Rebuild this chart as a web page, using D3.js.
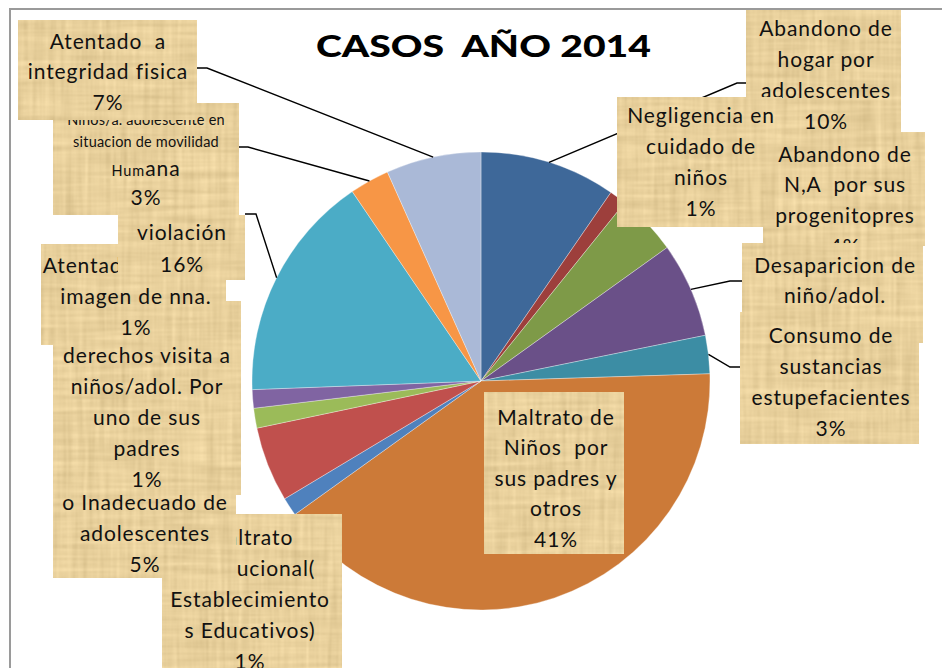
<!DOCTYPE html>
<html><head><meta charset="utf-8">
<script src="https://cdn.jsdelivr.net/npm/d3@7"></script>
<style>html,body{margin:0;padding:0;background:#fff;overflow:hidden}</style>
</head><body>
<svg id="chart" width="942" height="668"></svg>
<script>
// ---------------- data ----------------
const title = "CASOS  AÑO 2014";
const categories = [
  "Abandono de hogar por adolescentes",
  "Negligencia en cuidado de niños",
  "Abandono de N,A por sus progenitopres",
  "Desaparicion de niño/adol.",
  "Consumo de sustancias estupefacientes",
  "Maltrato de Niños por sus padres y otros",
  "Maltrato Institucional( Establecimientos Educativos)",
  "Uso Inadecuado de adolescentes",
  "Negación de derechos visita a niños/adol. Por uno de sus padres",
  "Atentado contra la imagen de nna.",
  "violación",
  "Niños/a. adolescente en situacion de movilidad Humana",
  "Atentado a integridad fisica"
];
const values = [9.6, 1.2, 4.3, 6.7, 2.7, 40.6, 1.3, 5.3, 1.4, 1.3, 16.1, 2.8, 6.7];
const labelLines = [
  ["Abandono de", "hogar por", "adolescentes"],
  ["Negligencia en", "cuidado de", "niños"],
  ["Abandono de", "N,A  por sus", "progenitopres"],
  ["Desaparicion de", "niño/adol."],
  ["Consumo de", "sustancias", "estupefacientes"],
  ["Maltrato de", "Niños  por", "sus padres y", "otros"],
  ["Maltrato", "Institucional(", "Establecimiento", "s Educativos)"],
  ["o Inadecuado de", "adolescentes"],
  ["Negación de", "derechos visita a", "niños/adol. Por", "uno de sus", "padres"],
  ["Atentado contra la", "imagen de nna."],
  ["violación"],
  ["Niños/a. adolescente en", "situacion de movilidad", "Humana"],
  ["Atentado  a", "integridad fisica"]
];
const colors = ["#3E6899","#9D3F3C","#7E9A48","#6A5088","#3C8DA4","#CC7A38",
                "#4F81BD","#C0504D","#9BBB59","#8064A2","#4BACC6","#F79646","#AAB9D7"];

// ---------------- layout ----------------
const cx = 481, cy = 381, R = 229;
const layout = [
  {box:[746,10,901,140], tx:826, bl:[36,67,98,129], leader:[746,83,737]},
  {box:[617,97,782,227], tx:701, bl:[123,154,185,216]},
  {box:[763,132,925,246], tx:845, bl:[162,192,223,254]},
  {box:[742,243,923,343], tx:835, bl:[273,303,334], leader:[742,281,730]},
  {box:[740,312,919,444], tx:831, bl:[343,374,405,436], leader:[740,367,730]},
  {box:[484,392,624,554], tx:556, bl:[425,455,486,516,547]},
  {box:[162,514,342,700], tx:250, bl:[545,576,607,638,669]},
  {box:[53,495,236,578], tx:145, bl:[510,541,572]},
  {box:[53,301,241,495], tx:147, bl:[332,363,394,425,456,487]},
  {box:[41,244,226,345], tx:136, bl:[273,304,335]},
  {box:[118,215,245,280], tx:182, bl:[240,272], leader:[245,214,256]},
  {box:[53,103,239,215], tx:146, bl:[125,147,176,205], sizes:[14.5,14.5,21,21], mixed:{line:2, split:3, size:14.5}, leader:[239,147,248]},
  {box:[18,20,197,120], tx:108, bl:[49,79,110], leader:[197,68,207]}
];
const FS = 21;

const svg = d3.select("#chart");
const defs = svg.append("defs");
const f = defs.append("filter").attr("id","papyrus")
  .attr("x",0).attr("y",0).attr("width",1).attr("height",1)
  .attr("color-interpolation-filters","sRGB");
f.append("feTurbulence").attr("type","fractalNoise").attr("baseFrequency","0.012 0.18")
  .attr("numOctaves",2).attr("seed",2).attr("result","t1");
f.append("feTurbulence").attr("type","fractalNoise").attr("baseFrequency","0.18 0.012")
  .attr("numOctaves",2).attr("seed",9).attr("result","t2");
f.append("feComposite").attr("in","t1").attr("in2","t2").attr("operator","arithmetic")
  .attr("k1",0).attr("k2",0.5).attr("k3",0.5).attr("k4",0).attr("result","t");
f.append("feColorMatrix").attr("in","t").attr("type","matrix")
  .attr("values","0.22 0 0 0 0.80  0.22 0 0 0 0.705  0.22 0 0 0 0.50  0 0 0 0 1").attr("result","c");
f.append("feComposite").attr("in","c").attr("in2","SourceGraphic").attr("operator","in");

// frame
svg.append("rect").attr("x",10).attr("y",9).attr("width",1200).attr("height",1200)
  .attr("fill","none").attr("stroke","#9a9a9a").attr("stroke-width",2);

// title
svg.append("text").attr("x",483.5).attr("y",57).attr("text-anchor","middle")
  .attr("font-family","Lato, 'Open Sans', sans-serif").attr("font-weight",900)
  .attr("font-size",31).attr("textLength",335).attr("lengthAdjust","spacingAndGlyphs")
  .attr("fill","#000").style("white-space","pre").text(title);

// pie
const total = d3.sum(values);
const pie = d3.pie().sort(null).value(d => d)(values);
const arc = d3.arc().innerRadius(0).outerRadius(R);
const g = svg.append("g").attr("transform",`translate(${cx},${cy})`);
g.selectAll("path").data(pie).join("path")
  .attr("d",arc).attr("fill",(d,i)=>colors[i])
  .attr("stroke","rgba(255,255,255,0.55)").attr("stroke-width",0.6);

// leader lines
pie.forEach((d,i) => {
  const L = layout[i].leader; if (!L) return;
  const a = (d.startAngle + d.endAngle)/2;
  const px = cx + R*Math.sin(a), py = cy - R*Math.cos(a);
  svg.append("polyline").attr("points",`${L[0]},${L[1]} ${L[2]},${L[1]} ${px},${py}`)
    .attr("fill","none").attr("stroke","#000").attr("stroke-width",1.4);
});

// labels
pie.forEach((d,i) => {
  const Lo = layout[i];
  const lg = svg.append("g");
  const [x0,y0,x1,y1] = Lo.box;
  lg.append("rect").attr("x",x0).attr("y",y0).attr("width",x1-x0).attr("height",y1-y0)
    .attr("fill","#E6D09A").attr("filter","url(#papyrus)");
  const lines = labelLines[i].concat([Math.round(d.value/total*100)+"%"]);
  lines.forEach((t,k) => {
    const size = Lo.sizes ? Lo.sizes[k] : FS;
    const te = lg.append("text").attr("x",Lo.tx).attr("y",Lo.bl[k]).attr("text-anchor","middle")
      .attr("font-family","Lato, 'Open Sans', sans-serif").attr("font-size",size)
      .attr("letter-spacing", size > 16 ? 0.9 : 0.2)
      .attr("fill","#111").style("white-space","pre");
    if (Lo.mixed && Lo.mixed.line === k) {
      te.append("tspan").attr("font-size",Lo.mixed.size).text(t.slice(0,Lo.mixed.split));
      te.append("tspan").text(t.slice(Lo.mixed.split));
    } else te.text(t);
  });
});
</script>
</body></html>
